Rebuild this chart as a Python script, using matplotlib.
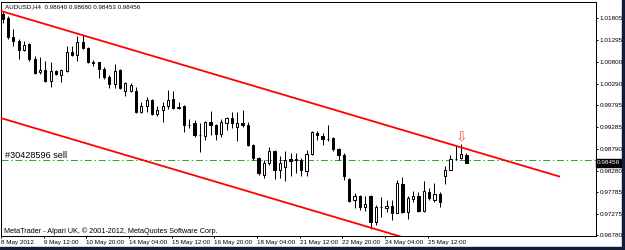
import matplotlib
matplotlib.use("Agg")
import matplotlib.pyplot as plt
import matplotlib.transforms as mtransforms
from matplotlib.patches import Rectangle

# AUDUSD H4 bars, starting 8 May 2012 04:00
opens = [1.01905, 1.01812, 1.01370, 1.01277, 1.01068, 1.01207, 1.00858, 1.00556, 1.00603, 1.00347,
         1.00579, 1.00486, 1.00579, 1.01021, 1.00951, 1.01254, 1.01114, 1.00789, 1.00789, 1.00626,
         1.00440, 1.00277, 1.00603, 1.00121, 1.00114, 1.00114, 0.99626, 0.99772, 0.99905, 0.99579,
         0.99672, 0.99765, 0.99928, 0.99719, 0.99765, 0.99346, 0.99393, 0.99114, 0.99091, 0.99400,
         0.99346, 0.99137, 0.99386, 0.99502, 0.99300, 0.99386, 0.99335, 0.98881, 0.98572, 0.98183,
         0.98456, 0.98726, 0.98300, 0.98363, 0.98556, 0.98516, 0.98516, 0.98277, 0.98665, 0.99153,
         0.99091, 0.99014, 0.99037, 0.98781, 0.98632, 0.98090, 0.97602, 0.97702, 0.97439, 0.97695,
         0.97090, 0.97439, 0.97409, 0.97462, 0.97307, 0.97974, 0.97330, 0.97618, 0.97695, 0.97353,
         0.97795, 0.97602, 0.97742, 0.98144, 0.98300, 0.98549, 0.98572, 0.98640]
highs = [1.01975, 1.01859, 1.01556, 1.01324, 1.01277, 1.01231, 1.00928, 1.00905, 1.00812, 1.00789,
         1.00603, 1.00626, 1.01161, 1.01161, 1.01393, 1.01417, 1.01138, 1.00835, 1.00800, 1.00672,
         1.00486, 1.00742, 1.00626, 1.00323, 1.00300, 1.00207, 0.99858, 0.99975, 0.99928, 0.99765,
         0.99858, 1.00137, 1.00114, 0.99858, 0.99788, 0.99463, 0.99440, 0.99393, 0.99423, 0.99656,
         0.99370, 0.99463, 0.99526, 0.99626, 0.99626, 0.99672, 0.99416, 0.98905, 0.98602, 0.98532,
         0.98835, 0.98765, 0.98625, 0.98726, 0.98695, 0.98688, 0.98579, 0.98765, 0.99191, 0.99191,
         0.99153, 0.99346, 0.99056, 0.98805, 0.98688, 0.98107, 0.97758, 0.97718, 0.97695, 0.97718,
         0.97486, 0.97679, 0.97602, 0.97602, 0.98067, 0.98130, 0.97695, 0.97818, 0.97795, 0.98028,
         0.97874, 0.97990, 0.97795, 0.98377, 0.98649, 0.98842, 0.98905, 0.98680]
lows = [1.01696, 1.01324, 1.01161, 1.00858, 1.01044, 1.00812, 1.00509, 1.00509, 1.00335, 1.00207,
        1.00486, 1.00323, 1.00556, 1.00928, 1.00812, 1.01091, 1.00765, 1.00696, 1.00416, 1.00393,
        1.00184, 1.00184, 1.00161, 0.99998, 1.00091, 0.99614, 0.99602, 0.99626, 0.99556, 0.99533,
        0.99416, 0.99695, 0.99695, 0.99695, 0.99184, 0.99277, 0.99067, 0.98702, 0.98981, 0.99114,
        0.98998, 0.99067, 0.99230, 0.99277, 0.98958, 0.99300, 0.98858, 0.98532, 0.98183, 0.98114,
        0.98416, 0.98090, 0.98114, 0.98028, 0.98144, 0.98223, 0.98144, 0.98144, 0.98649, 0.98998,
        0.98881, 0.98958, 0.98726, 0.98532, 0.98051, 0.97562, 0.97409, 0.97369, 0.97346, 0.96927,
        0.97020, 0.97214, 0.97330, 0.97137, 0.97293, 0.97307, 0.97153, 0.97562, 0.97330, 0.97330,
        0.97602, 0.97562, 0.97446, 0.97974, 0.98284, 0.98532, 0.98549, 0.98453]
closes = [1.01800, 1.01370, 1.01277, 1.01068, 1.01184, 1.00858, 1.00533, 1.00603, 1.00347, 1.00579,
          1.00509, 1.00603, 1.01021, 1.00951, 1.01254, 1.01114, 1.00789, 1.00782, 1.00626, 1.00440,
          1.00277, 1.00579, 1.00184, 1.00300, 1.00254, 0.99626, 0.99765, 0.99905, 0.99579, 0.99672,
          0.99765, 0.99905, 0.99719, 0.99754, 0.99346, 0.99339, 0.99114, 0.99102, 0.99400, 0.99346,
          0.99137, 0.99400, 0.99502, 0.99386, 0.99393, 0.99335, 0.98881, 0.98572, 0.98223, 0.98456,
          0.98726, 0.98300, 0.98456, 0.98532, 0.98493, 0.98549, 0.98284, 0.98672, 0.99167, 0.99098,
          0.99014, 0.99007, 0.98781, 0.98632, 0.98144, 0.97586, 0.97695, 0.97432, 0.97509, 0.97090,
          0.97446, 0.97432, 0.97462, 0.97307, 0.97990, 0.97330, 0.97642, 0.97695, 0.97353, 0.97818,
          0.97642, 0.97742, 0.97562, 0.98300, 0.98549, 0.98556, 0.98665, 0.98456]

price_ticks = [1.01805, 1.01295, 1.00800, 1.00290, 0.99795, 0.99285,
               0.98790, 0.98280, 0.97785, 0.97275, 0.96780]
date_labels = ["8 May 2012", "9 May 12:00", "10 May 20:00", "14 May 04:00",
               "15 May 12:00", "16 May 20:00", "18 May 04:00", "21 May 12:00",
               "22 May 20:00", "24 May 04:00", "25 May 12:00"]
bars_per_label = 8

# channel lines: (bar index, price) at both ends
upper_x = [-0.5, 104.4]
upper_y = [1.01982, 0.98144]
lower_x = [-0.5, 104.4]
lower_y = [0.99502, 0.95663]

order_price = 0.98521
order_text = "#30428596 sell"
arrow_bar = 86

plt.rcParams['font.family'] = ['Liberation Sans', 'DejaVu Sans']
plt.rcParams['lines.scale_dashes'] = False

W, H = 625, 250
fig = plt.figure(figsize=(W / 100, H / 100), dpi=100)
ax = fig.add_axes([1 / W, 14 / H, 595 / W, 234 / H])
ax.set_xlim(-0.32, 111.3)
ax.set_ylim(0.96765, 1.02184)

n = len(closes)
idx = list(range(n))
px = 0.72  # one pixel in points

# wicks then bodies
ax.vlines(idx, lows, highs, color='black', lw=px, zorder=2)
bottoms = [min(o, c) for o, c in zip(opens, closes)]
heights = [max(abs(c - o), 0.00002) for o, c in zip(opens, closes)]
faces = ['white' if c > o else 'black' for o, c in zip(opens, closes)]
ax.bar(idx, heights, bottom=bottoms, width=0.42, color=faces,
       edgecolor='black', linewidth=px, zorder=3)

# trend channel
ax.plot(upper_x, upper_y, color='#ff0000', lw=1.3, zorder=4)
ax.plot(lower_x, lower_y, color='#ff0000', lw=1.3, zorder=4)

# order line
ax.axhline(order_price, color='#2fa52f', lw=px, dashes=(5, 2, 1, 2), zorder=1)
ax.text(0.006, order_price, order_text,
        transform=mtransforms.blended_transform_factory(ax.transAxes, ax.transData),
        fontsize=6.6, va='bottom', ha='left')
ax.text(arrow_bar, highs[arrow_bar], "\u21e9", color='#ff5050', fontsize=10,
        family='DejaVu Sans', ha='center', va='bottom', zorder=5)

# axes look
for s in ax.spines.values():
    s.set_linewidth(px)
    s.set_color('black')
ax.yaxis.tick_right()
ax.set_yticks(price_ticks)
ax.set_yticklabels([f"{p:.5f}" for p in price_ticks])
ax.tick_params(axis='y', direction='out', length=1.6, width=px, pad=1.0, labelsize=4.6)
ticks_x = [k * bars_per_label - 0.3 for k in range(len(date_labels))]
ax.set_xticks(ticks_x)
ax.set_xticklabels(date_labels, ha='left')
ax.tick_params(axis='x', direction='out', length=1.6, width=px, pad=1.4, labelsize=4.5)

# current bid label
bid = closes[-1]
ax.text(1.002, bid, f"{bid:.5f}",
        transform=mtransforms.blended_transform_factory(ax.transAxes, ax.transData),
        color='white', fontsize=4.6, va='center', ha='left', clip_on=False,
        bbox=dict(facecolor='black', edgecolor='black', pad=0.9), zorder=6)

# header and footer text
fig.text(5 / W, 1 - 6.5 / H,
         f"AUDUSD,H4  {opens[-1]:.5f} {highs[-1]:.5f} {lows[-1]:.5f} {closes[-1]:.5f}",
         fontsize=4.5, va='center', ha='left')
fig.text(3.5 / W, 1 - 231.5 / H,
         "MetaTrader - Alpari UK, \u00a9 2001-2012, MetaQuotes Software Corp.",
         fontsize=5.2, va='center', ha='left')

# window frame on right and bottom
fig.patches.append(Rectangle((622 / W, 0), 3 / W, 1, transform=fig.transFigure, color='#0f1c3c'))
fig.patches.append(Rectangle((0, 0), 1, 3.5 / H, transform=fig.transFigure, color='#0f1c3c'))

fig.savefig("out.png", dpi=100, facecolor='white')
